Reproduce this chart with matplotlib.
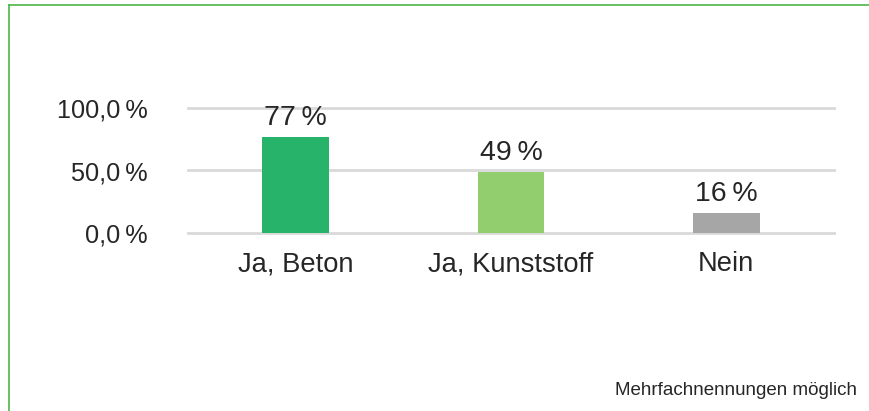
import matplotlib
matplotlib.use("Agg")
import matplotlib.pyplot as plt
from matplotlib.lines import Line2D

categories = ["Ja, Beton", "Ja, Kunststoff", "Nein"]
values = [77, 49, 16]
value_labels = ["77\u2009%", "49\u2009%", "16\u2009%"]
colors = ["#27B36A", "#93CE6E", "#A6A6A6"]
yticks = [0, 50, 100]
ytick_labels = ["0,0\u2009%", "50,0\u2009%", "100,0\u2009%"]
footnote = "Mehrfachnennungen möglich"

plt.rcParams["font.family"] = ["Liberation Sans", "DejaVu Sans"]
text_color = "#262626"

fig = plt.figure(figsize=(8.7, 4.11), dpi=100)
ax = fig.add_axes([188/870, 1-233/411, (834-188)/870, 125/411])

x = range(len(categories))
bars = ax.bar(x, values, width=0.31, color=colors, zorder=3)
ax.set_xlim(-0.5, 2.5)
ax.set_ylim(0, 100)
ax.set_yticks(yticks)
ax.set_yticklabels(ytick_labels, fontsize=18.2, color=text_color)
ax.set_xticks(list(x))
ax.set_xticklabels(categories, fontsize=19.7, color=text_color)
ax.tick_params(axis="both", length=0)
ax.tick_params(axis="y", pad=29)
ax.tick_params(axis="x", pad=13)
for s in ax.spines.values():
    s.set_visible(False)
ax.grid(axis="y", color="#D9D9D9", linewidth=2, zorder=0)
ax.set_axisbelow(True)
for gl in ax.get_ygridlines():
    gl.set_clip_on(False)

for b, lab in zip(bars, value_labels):
    ax.annotate(lab, (b.get_x() + b.get_width()/2, b.get_height()),
                xytext=(0, 4), textcoords="offset points",
                ha="center", va="bottom", fontsize=20.5, color=text_color)

fig.text(857/870, 1-390/411, footnote, ha="right", va="center",
         fontsize=13.5, color=text_color)

# green frame (left and top)
fig.add_artist(Line2D([9.5/870, 9.5/870], [0, 1-5.5/411], transform=fig.transFigure,
                      color="#4CB648", linewidth=1.2))
fig.add_artist(Line2D([9.5/870, 1], [1-5.5/411, 1-5.5/411], transform=fig.transFigure,
                      color="#4CB648", linewidth=1.2))

fig.savefig("out.png", dpi=100)
